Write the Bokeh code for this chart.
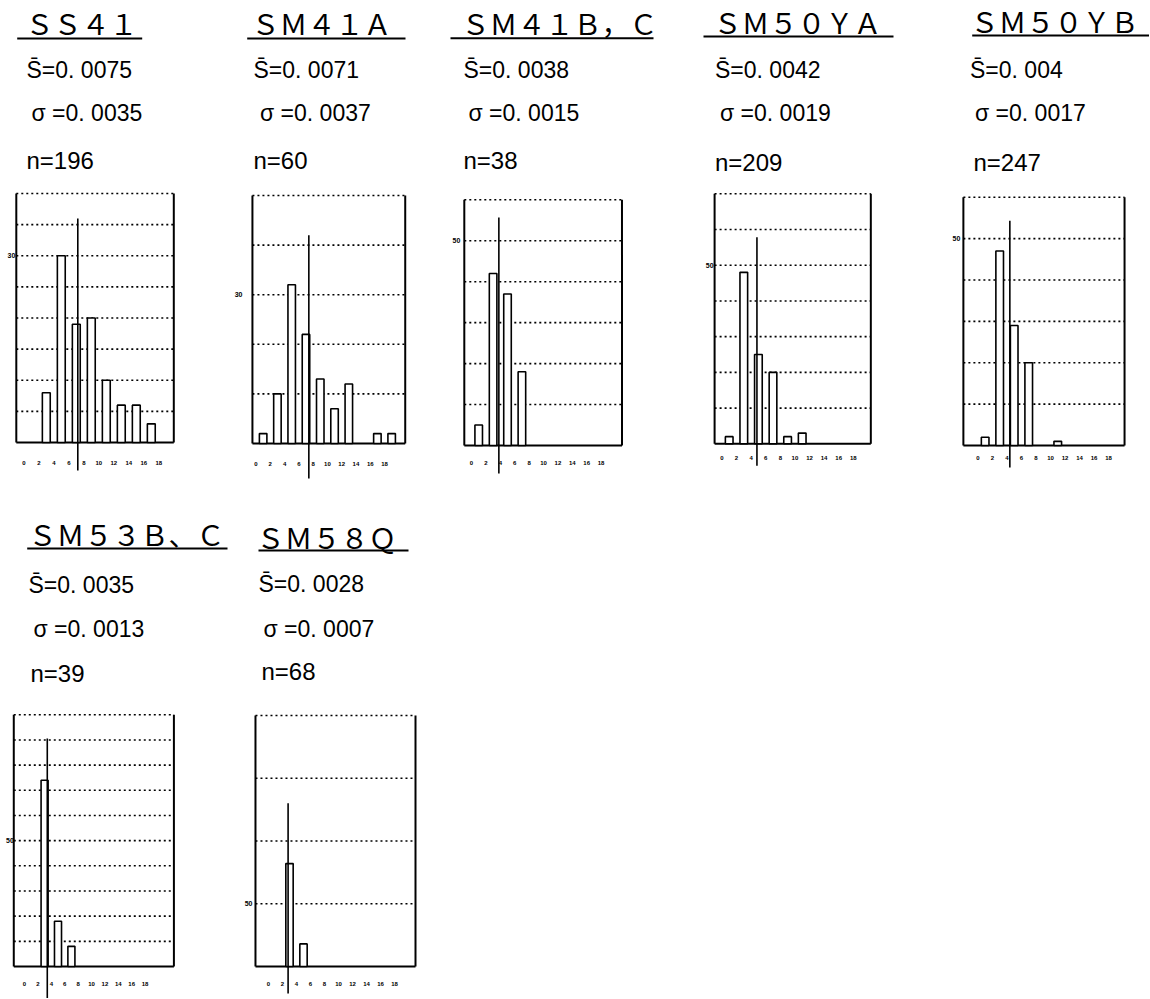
from bokeh.plotting import figure
from bokeh.models import Range1d
from bokeh.layouts import column, row
from bokeh.core.properties import value
from bokeh.embed import file_html
from bokeh.resources import INLINE

# ---------------- data ----------------
grades = ["ＳＳ４１", "ＳＭ４１Ａ", "ＳＭ４１Ｂ，Ｃ", "ＳＭ５０ＹＡ", "ＳＭ５０ＹＢ", "ＳＭ５３Ｂ、Ｃ", "ＳＭ５８Ｑ"]
mean_s = ["0. 0075", "0. 0071", "0. 0038", "0. 0042", "0. 004", "0. 0035", "0. 0028"]
sigma_s = ["0. 0035", "0. 0037", "0. 0015", "0. 0019", "0. 0017", "0. 0013", "0. 0007"]
n_s = ["196", "60", "38", "209", "247", "39", "68"]

ss41_bins = [3, 5, 7, 9, 11, 13, 15, 17]
ss41_pct = [8, 30, 19, 20, 10, 6, 6, 3]
sm41a_bins = [1, 3, 5, 7, 9, 11, 13, 17, 19]
sm41a_pct = [2, 10, 32, 22, 13, 7, 12, 2, 2]
sm41bc_bins = [1, 3, 5, 7]
sm41bc_pct = [5, 42, 37, 18]
sm50ya_bins = [1, 3, 5, 7, 9, 11]
sm50ya_pct = [2, 48, 25, 20, 2, 3]
sm50yb_bins = [1, 3, 5, 7, 11]
sm50yb_pct = [2, 47, 29, 20, 1]
sm53bc_bins = [3, 5, 7]
sm53bc_pct = [74, 18, 8]
sm58q_bins = [3, 5]
sm58q_pct = [82, 18]

y_max = [40, 50, 60, 70, 60, 100, 200]
y_step = [5, 10, 10, 10, 10, 10, 50]
y_label = [30, 30, 50, 50, 50, 50, 50]
x_ticks = [0, 2, 4, 6, 8, 10, 12, 14, 16, 18]
x_tick_labels = ["0", "2", "4", "6", "8", "10", "12", "14", "16", "18"]
mean_line_x = [7.2, 7.4, 3.8, 4.8, 4.4, 3.4, 2.8]
mean_line_top = [36, 42, 55.7, 57.8, 54.3, 90.6, 130]

bins = [ss41_bins, sm41a_bins, sm41bc_bins, sm50ya_bins, sm50yb_bins, sm53bc_bins, sm58q_bins]
pcts = [ss41_pct, sm41a_pct, sm41bc_pct, sm50ya_pct, sm50yb_pct, sm53bc_pct, sm58q_pct]

# ---------------- layout (screen pixels, page origin at 0,0) ----------------
# left/right/top/bottom: figure extent; x0: screen x of value 0; ppu: px per x unit
# yb: screen y of baseline; ytop: screen y of y_max; bx: box x-extent (data)
# title/s/sg/n: (left x, vertical centre y) of the texts
LAYOUT = [
    dict(left=0, right=230, top=0, bottom=500, x0=23.3, ppu=7.5, yb=442, ytop=193, bx=(-1, 20),
         tick_off=20, lab_gap=1, line_bot=28, title=(25, 22), ul=(16.7, 141.7, 38),
         s=(26, 69), sg=(31, 112), n=(26, 160)),
    dict(left=230, right=448, top=0, bottom=500, x0=255.5, ppu=7.14, yb=443, ytop=195, bx=(-0.5, 20.9),
         tick_off=20, lab_gap=10, line_bot=35, title=(251, 22), ul=(246.7, 405, 38),
         s=(253, 69), sg=(259.5, 112), n=(253, 160)),
    dict(left=448, right=700, top=0, bottom=500, x0=471, ppu=7.2, yb=445, ytop=199.3, bx=(-1, 20.9),
         tick_off=17, lab_gap=4, line_bot=28, title=(461, 22), ul=(450, 653, 37.7),
         s=(463, 69), sg=(468, 112), n=(463, 160)),
    dict(left=700, right=940, top=0, bottom=500, x0=721.4, ppu=7.3, yb=443.3, ytop=193.3, bx=(-1, 20.4),
         tick_off=14, lab_gap=1, line_bot=22, title=(713, 21), ul=(703, 893, 36),
         s=(714.5, 69), sg=(719.5, 112), n=(714.5, 162)),
    dict(left=940, right=1149, top=0, bottom=500, x0=977.4, ppu=7.26, yb=445, ytop=196.7, bx=(-2, 20.2),
         tick_off=12, lab_gap=3, line_bot=22, title=(970, 20), ul=(971.7, 1150, 35),
         s=(969.5, 69), sg=(974.5, 112), n=(973, 162)),
    dict(left=0, right=230, top=500, bottom=998, x0=24, ppu=6.7, yb=966, ytop=714.3, bx=(-1.6, 22.3),
         tick_off=17, lab_gap=0, line_bot=40, title=(28, 533), ul=(26.7, 227, 548),
         s=(28, 584), sg=(33, 628), n=(30, 673)),
    dict(left=230, right=448, top=500, bottom=998, x0=268, ppu=7.0, yb=966, ytop=715, bx=(-1.86, 21),
         tick_off=17, lab_gap=3, line_bot=27, title=(256, 536), ul=(258, 408, 550),
         s=(258, 583), sg=(263, 628), n=(261, 671)),
]

STAT_FONT = value("Liberation Sans")
TITLE_FONT = value("Noto Sans CJK JP")


def make_panel(i):
    L = LAYOUT[i]
    W = L["right"] - L["left"]
    H = L["bottom"] - L["top"]
    x0, ppu, yb = L["x0"], L["ppu"], L["yb"]
    k = (yb - L["ytop"]) / y_max[i]

    def X(px):
        return (px - x0) / ppu

    def Y(py):
        return (yb - py) / k

    p = figure(width=W, height=H, output_backend="svg", toolbar_location=None,
               x_range=Range1d(X(L["left"]), X(L["right"])),
               y_range=Range1d(Y(L["bottom"]), Y(L["top"])),
               x_axis_location=None, y_axis_location=None, min_border=0)
    p.grid.visible = False
    p.outline_line_color = None
    p.background_fill_color = "white"
    p.border_fill_color = "white"

    bl, br = L["bx"]
    # dotted gridlines (including the top edge)
    gv = list(range(y_step[i], y_max[i] + 1, y_step[i]))
    p.segment(x0=[bl] * len(gv), y0=gv, x1=[br] * len(gv), y1=gv,
              line_color="black", line_width=1.6, line_dash="2 3")
    # solid frame: left, right, bottom
    p.segment(x0=[bl, br, bl], y0=[0, 0, 0], x1=[bl, br, br], y1=[y_max[i], y_max[i], 0],
              line_color="black", line_width=2)
    # bars
    p.vbar(x=bins[i], top=pcts[i], bottom=0, width=1.05, fill_color="white",
           line_color="black", line_width=1.6)
    # mean line
    p.segment(x0=[mean_line_x[i]], y0=[Y(yb + L["line_bot"])], x1=[mean_line_x[i]], y1=[mean_line_top[i]],
              line_color="black", line_width=1.6)
    # x tick labels
    p.text(x=x_ticks, y=[Y(yb + L["tick_off"])] * len(x_ticks), text=x_tick_labels,
           text_font=STAT_FONT, text_font_style="bold", text_font_size="6px",
           text_align="center", text_baseline="middle", text_color="black")
    # y label
    p.text(x=[X(x0 + bl * ppu - L["lab_gap"])], y=[y_label[i]], text=[str(y_label[i])],
           text_font=STAT_FONT, text_font_style="bold", text_font_size="7px",
           text_align="right", text_baseline="middle", text_color="black")
    # header texts
    tx, ty = L["title"]
    p.text(x=[X(tx)], y=[Y(ty)], text=[grades[i]], text_font=TITLE_FONT, text_font_size="28px",
           text_align="left", text_baseline="middle", text_color="black")
    ux0, ux1, uy = L["ul"]
    p.segment(x0=[X(ux0)], y0=[Y(uy)], x1=[X(ux1)], y1=[Y(uy)], line_color="black", line_width=2)
    sx, sy = L["s"]
    p.text(x=[X(sx)], y=[Y(sy)], text=["S\u0304=" + mean_s[i]], text_font=STAT_FONT,
           text_font_size="23px", text_align="left", text_baseline="middle", text_color="black")
    gx, gy = L["sg"]
    p.text(x=[X(gx)], y=[Y(gy)], text=["σ =" + sigma_s[i]], text_font=STAT_FONT,
           text_font_size="23px", text_align="left", text_baseline="middle", text_color="black")
    nx, ny = L["n"]
    p.text(x=[X(nx)], y=[Y(ny)], text=["n=" + n_s[i]], text_font=STAT_FONT,
           text_font_size="24px", text_align="left", text_baseline="middle", text_color="black")
    return p


panels = [make_panel(i) for i in range(7)]
layout = column(row(*panels[:5], spacing=0), row(*panels[5:], spacing=0), spacing=0)

open("out.html", "w").write(file_html(layout, INLINE))
